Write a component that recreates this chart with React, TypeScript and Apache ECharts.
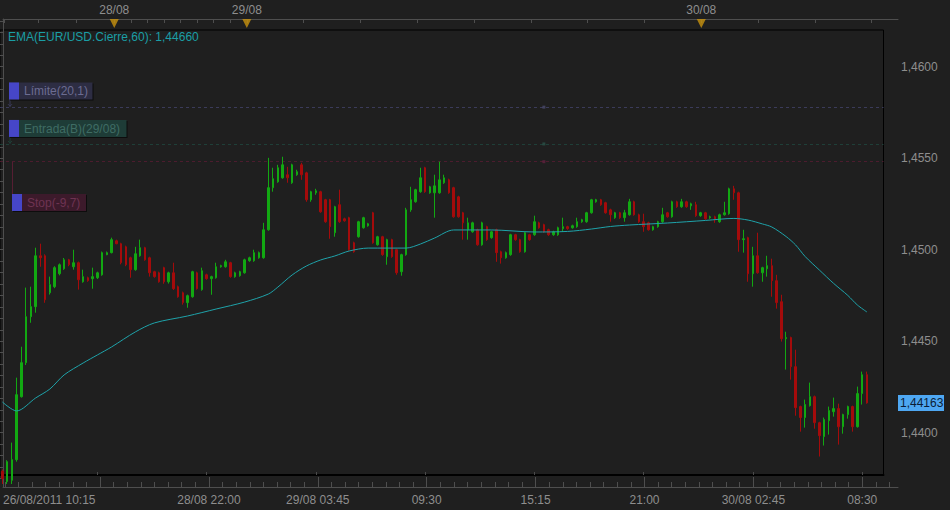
import React, { useEffect, useRef } from "react";
import * as echarts from "echarts";

// ---------- data ----------
const opens = [
  1.4379, 1.43733, 1.4374, 1.43853, 1.44197, 1.44383, 1.44634, 1.44689, 1.44967, 1.44967,
  1.44765, 1.44798, 1.44869, 1.44896, 1.44945, 1.44907, 1.44929, 1.44825, 1.44847, 1.44842,
  1.44847, 1.44863, 1.44973, 1.44984, 1.45049, 1.45033, 1.45016, 1.44956, 1.44891, 1.44967,
  1.45011, 1.44956, 1.4488, 1.44874, 1.44902, 1.44825, 1.44874, 1.44798, 1.44765, 1.44711,
  1.44743, 1.44874, 1.44782, 1.44863, 1.44842, 1.44847, 1.44907, 1.44907, 1.44929, 1.44853,
  1.44858, 1.44874, 1.4494, 1.4494, 1.44956, 1.44956, 1.45109, 1.45339, 1.45371, 1.45393,
  1.4541, 1.45366, 1.4541, 1.45464, 1.4542, 1.45273, 1.45311, 1.45317, 1.45273, 1.45273,
  1.45093, 1.45246, 1.45169, 1.45175, 1.45038, 1.45071, 1.4512, 1.45131, 1.45202, 1.45027,
  1.45071, 1.44962, 1.45055, 1.45, 1.4488, 1.44973, 1.45218, 1.45262, 1.45317, 1.45448,
  1.45311, 1.45311, 1.45311, 1.45366, 1.45382, 1.45339, 1.45289, 1.45202, 1.45109, 1.45098,
  1.45109, 1.45027, 1.45126, 1.45066, 1.45109, 1.44989, 1.44956, 1.44973, 1.45082, 1.45055,
  1.44989, 1.45082, 1.45082, 1.45147, 1.45137, 1.45109, 1.45082, 1.45082, 1.45115, 1.45126,
  1.4512, 1.45126, 1.45153, 1.45153, 1.45202, 1.45262, 1.45273, 1.45257, 1.45218, 1.45175,
  1.45202, 1.45175, 1.45191, 1.45262, 1.45191, 1.45153, 1.45147, 1.45109, 1.45126, 1.45153,
  1.45202, 1.4518, 1.45262, 1.45235, 1.45262, 1.4524, 1.45246, 1.45186, 1.45202, 1.45175,
  1.4518, 1.45153, 1.45191, 1.45197, 1.45333, 1.45311, 1.45055, 1.45066, 1.44869, 1.44967,
  1.44874, 1.44896, 1.44913, 1.44831, 1.44716, 1.44514, 1.4452, 1.44361, 1.44143, 1.44083,
  1.44148, 1.44197, 1.44055, 1.43979, 1.44066, 1.44115, 1.44132, 1.44033, 1.44099, 1.44143,
  1.44033, 1.44214, 1.44317,
];
const closes = [
  1.4375, 1.43842, 1.43853, 1.44208, 1.44383, 1.44634, 1.44689, 1.44967, 1.44956, 1.44727,
  1.44809, 1.44902, 1.44918, 1.44945, 1.44918, 1.44929, 1.44836, 1.44853, 1.44831, 1.44853,
  1.44874, 1.44984, 1.44984, 1.45055, 1.45033, 1.44929, 1.44918, 1.44891, 1.44978, 1.45011,
  1.44945, 1.44874, 1.44853, 1.44825, 1.44825, 1.44874, 1.44787, 1.44743, 1.44711, 1.44749,
  1.4488, 1.44787, 1.44885, 1.44842, 1.44853, 1.44907, 1.44913, 1.44934, 1.44853, 1.44874,
  1.4488, 1.44945, 1.44956, 1.44984, 1.44984, 1.45109, 1.45339, 1.45388, 1.45448, 1.45464,
  1.45393, 1.45464, 1.45426, 1.4541, 1.45273, 1.45317, 1.45322, 1.45207, 1.45153, 1.45126,
  1.45235, 1.45153, 1.45158, 1.45, 1.44989, 1.45153, 1.45175, 1.45142, 1.45038, 1.45071,
  1.44973, 1.45055, 1.44962, 1.44874, 1.44973, 1.45218, 1.45273, 1.45328, 1.45393, 1.45317,
  1.45344, 1.45349, 1.45382, 1.45393, 1.45311, 1.4518, 1.4518, 1.45147, 1.45147, 1.45147,
  1.45027, 1.45147, 1.45055, 1.45098, 1.44984, 1.44956, 1.44984, 1.45082, 1.45055, 1.44989,
  1.45093, 1.45055, 1.45153, 1.4512, 1.45098, 1.45082, 1.45098, 1.4512, 1.45126, 1.45115,
  1.45131, 1.45153, 1.45164, 1.45202, 1.45273, 1.45273, 1.45246, 1.45202, 1.45191, 1.45202,
  1.45175, 1.45202, 1.45262, 1.45191, 1.45153, 1.45126, 1.45109, 1.45126, 1.45153, 1.45191,
  1.4518, 1.45262, 1.45235, 1.45262, 1.45235, 1.45251, 1.45186, 1.45202, 1.45169, 1.4518,
  1.45164, 1.45191, 1.45202, 1.45333, 1.45311, 1.45055, 1.4506, 1.44869, 1.44967, 1.44874,
  1.44902, 1.44913, 1.44831, 1.44711, 1.44514, 1.4452, 1.44361, 1.44137, 1.44083, 1.44154,
  1.44197, 1.44055, 1.43984, 1.44072, 1.44121, 1.44132, 1.44033, 1.44099, 1.44143, 1.44033,
  1.44214, 1.44317, 1.44163,
];
const lows = [
  1.4372, 1.4372, 1.4372, 1.43842, 1.44192, 1.4437, 1.44601, 1.44656, 1.44907, 1.4471,
  1.44755, 1.4479, 1.4486, 1.4489, 1.4491, 1.44891, 1.44782, 1.4482, 1.44825, 1.44787,
  1.4484, 1.44858, 1.4497, 1.4498, 1.4503, 1.4492, 1.4491, 1.44847, 1.44885, 1.44962,
  1.4494, 1.44853, 1.44847, 1.4482, 1.44814, 1.44815, 1.4478, 1.44738, 1.447, 1.44683,
  1.44738, 1.44782, 1.44776, 1.44836, 1.44754, 1.44842, 1.44902, 1.44902, 1.44847, 1.44847,
  1.44853, 1.44869, 1.44934, 1.44934, 1.44951, 1.44951, 1.45104, 1.45317, 1.45366, 1.45388,
  1.45366, 1.4536, 1.45404, 1.45382, 1.45262, 1.45262, 1.453, 1.45202, 1.45147, 1.4506,
  1.45071, 1.45147, 1.45153, 1.44995, 1.44984, 1.45066, 1.45115, 1.45126, 1.45033, 1.45022,
  1.44967, 1.44918, 1.44956, 1.44863, 1.44858, 1.44967, 1.45207, 1.45257, 1.45311, 1.45311,
  1.45306, 1.45175, 1.45306, 1.4536, 1.45306, 1.45175, 1.45175, 1.45055, 1.45055, 1.45093,
  1.45022, 1.45022, 1.45049, 1.4506, 1.44934, 1.44924, 1.44951, 1.44967, 1.45049, 1.44984,
  1.44984, 1.45049, 1.45076, 1.45115, 1.45093, 1.45076, 1.45076, 1.45076, 1.45098, 1.45109,
  1.45115, 1.4512, 1.45147, 1.45147, 1.45197, 1.45257, 1.4524, 1.45197, 1.45153, 1.45169,
  1.45169, 1.45153, 1.45186, 1.45186, 1.45147, 1.45098, 1.45104, 1.45104, 1.4512, 1.45147,
  1.45175, 1.45175, 1.45229, 1.45229, 1.45229, 1.45218, 1.4518, 1.4518, 1.45164, 1.45169,
  1.45147, 1.45147, 1.45186, 1.45191, 1.45273, 1.44989, 1.44984, 1.44825, 1.44798, 1.44869,
  1.44825, 1.44853, 1.44743, 1.44678, 1.44498, 1.44345, 1.4429, 1.44093, 1.44006, 1.44028,
  1.44143, 1.44022, 1.4387, 1.4393, 1.4399, 1.44088, 1.43935, 1.43995, 1.44077, 1.44006,
  1.44028, 1.44154, 1.44159,
];
const highs = [
  1.438, 1.4385, 1.43946, 1.44301, 1.4447, 1.44793, 1.44798, 1.45011, 1.45033, 1.44975,
  1.44853, 1.4491, 1.44925, 1.44955, 1.4495, 1.45, 1.44935, 1.44891, 1.44853, 1.44902,
  1.4488, 1.4499, 1.4499, 1.45066, 1.45055, 1.45038, 1.45022, 1.44962, 1.45016, 1.45055,
  1.45016, 1.44962, 1.44885, 1.4488, 1.44907, 1.4488, 1.44929, 1.44804, 1.44771, 1.44755,
  1.44885, 1.4488, 1.44902, 1.44869, 1.44858, 1.44929, 1.44918, 1.44945, 1.44934, 1.4488,
  1.44885, 1.44951, 1.44962, 1.45, 1.4499, 1.45147, 1.45502, 1.45448, 1.45464, 1.45508,
  1.45453, 1.4547, 1.45437, 1.45475, 1.45426, 1.45322, 1.45333, 1.45322, 1.45278, 1.45278,
  1.4524, 1.45328, 1.45175, 1.4518, 1.45044, 1.45158, 1.4518, 1.45147, 1.45207, 1.45076,
  1.45076, 1.4506, 1.4506, 1.45005, 1.44978, 1.45229, 1.45344, 1.45333, 1.45448, 1.45453,
  1.45349, 1.4541, 1.45481, 1.4541, 1.45388, 1.45344, 1.45295, 1.45207, 1.45175, 1.45153,
  1.45115, 1.45153, 1.45131, 1.45104, 1.45115, 1.44995, 1.4499, 1.45087, 1.45087, 1.4506,
  1.45098, 1.45087, 1.45186, 1.45153, 1.45142, 1.45115, 1.45104, 1.45126, 1.45175, 1.45131,
  1.45137, 1.45175, 1.45169, 1.45207, 1.45278, 1.45278, 1.45278, 1.45262, 1.45224, 1.45207,
  1.45207, 1.45218, 1.45278, 1.45268, 1.45197, 1.45197, 1.45153, 1.45131, 1.45158, 1.45229,
  1.45207, 1.45268, 1.45268, 1.45278, 1.45268, 1.45257, 1.45262, 1.45207, 1.45207, 1.45186,
  1.45186, 1.45197, 1.45262, 1.45339, 1.45349, 1.45317, 1.45109, 1.45071, 1.45016, 1.45093,
  1.44907, 1.44967, 1.44951, 1.44863, 1.44754, 1.44552, 1.44525, 1.44454, 1.44148, 1.44181,
  1.44274, 1.44203, 1.4406, 1.44083, 1.44143, 1.44192, 1.44159, 1.44104, 1.44148, 1.44148,
  1.44252, 1.44334, 1.44334,
];

// EMA(60) read at selected bars
const emaIndex = [
  0, 3, 7, 10, 13, 17, 20, 23, 28, 32, 39, 45, 51, 56, 58, 61, 64, 67, 70, 73, 77, 85, 88, 91,
  95, 103, 112, 119, 124, 128, 132, 140, 148, 154, 157, 160, 162, 165, 167, 169, 172, 175, 178,
  180, 182,
];
const emaValues = [
  1.44168, 1.44119, 1.4419, 1.44239, 1.44316, 1.44381, 1.44425, 1.44469, 1.44551, 1.446,
  1.44638, 1.44676, 1.44714, 1.44758, 1.44796, 1.44862, 1.44911, 1.44944, 1.44966, 1.44993,
  1.45009, 1.45009, 1.45031, 1.45064, 1.45108, 1.45108, 1.45097, 1.451, 1.45113, 1.45127,
  1.45135, 1.45146, 1.4516, 1.45171, 1.45162, 1.45141, 1.45124, 1.45072, 1.45026, 1.44963,
  1.44889, 1.44816, 1.4475, 1.44698, 1.4466,
];
const emaName = "EMA(EUR/USD.Cierre,60)";

// order levels
const levelNames = ["Límite(20,1)", "Entrada(B)(29/08)", "Stop(-9,7)"];
const levelValues = [1.45779, 1.45578, 1.45481];
const levelMarkerIndex = 114;

// axes
const yTickValues = [1.44, 1.445, 1.45, 1.455, 1.46];
const bottomLabelIndex = [0, 43, 66, 89, 112, 135, 158, 181];
const bottomLabels = [
  "26/08/2011 10:15", "28/08 22:00", "29/08 03:45", "09:30", "15:15", "21:00", "30/08 02:45", "08:30",
];
const bottomTickIndex = [20, 43, 66, 89, 112, 135, 158, 181];
const dayIndex = [23, 51, 147];
const dayLabels = ["28/08", "29/08", "30/08"];
const topTickSlots = [
  0.2, 7.5, 15.5, 23.5, 27, 30.5, 34, 37.5, 41, 44.5, 48, 51.5, 63.5, 75.5, 87.5, 99.5, 111.5,
  123.5, 135.5, 147.5, 159.5, 171.5, 183.5,
];

// ---------- layout constants ----------
const SLOT_COUNT = 186;
const SLOT_PX = 4.75;
const FRAME_W = 898;
const Y0_MIN = 1.437691;
const Y0_MAX = 1.462006;
const Y1_MIN = 1.437035;
const Y1_MAX = 1.462607;

function pad2(n: number) {
  return n < 10 ? "0" + n : "" + n;
}
function buildCategories(): string[] {
  const out: string[] = [];
  for (let k = 0; k < 23; k++) {
    const t = 10 * 60 + 15 + 15 * k;
    out.push(`26/08 ${pad2(Math.floor(t / 60))}:${pad2(t % 60)}`);
  }
  for (let k = 0; out.length < SLOT_COUNT; k++) {
    const t = 17 * 60 + 15 * k;
    const d = 28 + Math.floor(t / 1440);
    const tm = t % 1440;
    out.push(`${d}/08 ${pad2(Math.floor(tm / 60))}:${pad2(tm % 60)}`);
  }
  return out;
}

const BG = "#1f1f1f";
const FONT = '"Liberation Sans", Arial, sans-serif';
const AXIS_GREY = "#4e4e4e";
const LABEL_GREY = "#8e8e8e";
const levelLine = ["#3b3b5a", "#1f3f38", "#4c1c2e"];
const levelMark = ["#4a4a6c", "#2a5249", "#62203f"];
const levelBox = ["#2d2d43", "#1e3c37", "#3c1a2b"];
const levelText = ["#6c6c92", "#3f6c64", "#6e3352"];

export default function App() {
  const ref = useRef<HTMLDivElement>(null);

  useEffect(() => {
    if (!ref.current) return;
    const chart = echarts.init(ref.current, null, { renderer: "svg" });
    const categories = buildCategories();
    const frameMax = FRAME_W / SLOT_PX;

    const majorX = bottomTickIndex.map((i) => i + 0.5);
    const minorStep = 23 / 8;
    const minorX: number[] = [];
    for (let v = majorX[0] - 7 * minorStep; v <= frameMax; v += minorStep) minorX.push(v);
    const labelX = bottomLabelIndex.map((i, k) => (k === 0 ? 0 : i + 0.5));
    const dayX = dayIndex.map((i) => i + 0.5);
    const yMinor: number[] = [];
    for (let k = 0; k <= 40; k++) yMinor.push(1.4375 + k * 0.000625);

    const findLabel = (vals: number[], texts: string[], v: number) => {
      const k = vals.findIndex((x) => Math.abs(x - v) < 1e-6);
      return k >= 0 ? texts[k] : "";
    };

    const labelStyle = { color: LABEL_GREY, fontFamily: FONT, fontSize: 12 };

    const option: any = {
      animation: false,
      backgroundColor: BG,
      grid: [
        {
          left: 0, top: 30, width: SLOT_COUNT * SLOT_PX, height: 445,
          show: true, borderColor: "#000", borderWidth: 1, backgroundColor: "transparent",
        },
        { left: 0, top: 19, width: FRAME_W, height: 468, show: false },
      ],
      xAxis: [
        {
          type: "category", gridIndex: 0, data: categories, boundaryGap: true,
          axisLine: { show: true, lineStyle: { color: "#000", width: 2 } },
          axisTick: {
            show: true, inside: true, length: 3, alignWithLabel: true,
            interval: (i: number) => i >= 20 && (i - 20) % 23 === 0,
            lineStyle: { color: "#4a4a4a" },
          },
          axisLabel: { show: false }, splitLine: { show: false },
        },
        {
          type: "value", gridIndex: 1, position: "bottom", min: 0, max: frameMax,
          axisLine: { show: true, lineStyle: { color: AXIS_GREY } },
          axisTick: { show: true, inside: true, length: 10, customValues: majorX, lineStyle: { color: AXIS_GREY } },
          axisLabel: {
            show: true, customValues: labelX, margin: 7, alignMinLabel: "left",
            formatter: (v: number) => findLabel(labelX, bottomLabels, v), ...labelStyle,
          },
          splitLine: { show: false },
        },
        {
          type: "value", gridIndex: 1, position: "bottom", min: 0, max: frameMax,
          axisLine: { show: false },
          axisTick: { show: true, inside: true, length: 5, customValues: minorX, lineStyle: { color: AXIS_GREY } },
          axisLabel: { show: false }, splitLine: { show: false },
        },
        {
          type: "value", gridIndex: 1, position: "top", min: 0, max: frameMax,
          axisLine: { show: true, lineStyle: { color: AXIS_GREY } },
          axisTick: { show: true, inside: true, length: 4, customValues: topTickSlots, lineStyle: { color: AXIS_GREY } },
          axisLabel: {
            show: true, customValues: dayX, margin: 3,
            formatter: (v: number) => findLabel(dayX, dayLabels, v), ...labelStyle,
          },
          splitLine: { show: false },
        },
      ],
      yAxis: [
        { type: "value", gridIndex: 0, min: Y0_MIN, max: Y0_MAX, show: false, splitLine: { show: false } },
        {
          type: "value", gridIndex: 1, position: "right", min: Y1_MIN, max: Y1_MAX,
          axisLine: { show: true, lineStyle: { color: AXIS_GREY } },
          axisTick: { show: true, inside: true, length: 13, customValues: yTickValues, lineStyle: { color: AXIS_GREY } },
          axisLabel: {
            show: true, customValues: yTickValues, margin: 3,
            formatter: (v: number) => v.toFixed(4).replace(".", ","), ...labelStyle,
          },
          splitLine: { show: false },
        },
        {
          type: "value", gridIndex: 1, position: "right", min: Y1_MIN, max: Y1_MAX,
          axisLine: { show: false },
          axisTick: { show: true, inside: true, length: 6, customValues: yMinor, lineStyle: { color: AXIS_GREY } },
          axisLabel: { show: false }, splitLine: { show: false },
        },
      ],
      series: [
        {
          type: "candlestick", name: "EUR/USD", xAxisIndex: 0, yAxisIndex: 0,
          data: opens.map((o, i) => [o, closes[i], lows[i], highs[i]]),
          barWidth: 2, clip: true, z: 3,
          itemStyle: {
            color: "#12a812", color0: "#a40b0b",
            borderColor: "#12a812", borderColor0: "#a40b0b", borderWidth: 1,
          },
        },
        {
          type: "line", name: emaName, xAxisIndex: 0, yAxisIndex: 0,
          data: emaIndex.map((i, k) => [i, emaValues[k]]),
          showSymbol: false, symbol: "none", smooth: 0.3, z: 4,
          lineStyle: { color: "#1fa3aa", width: 1 },
          markLine: {
            silent: true, symbol: ["none", "none"], label: { show: false }, z: 2, precision: 5,
            data: levelValues.map((v, k) => ({
              yAxis: v, lineStyle: { color: levelLine[k], type: [3, 3], width: 1 },
            })),
          },
        },
        {
          type: "scatter", xAxisIndex: 0, yAxisIndex: 0, symbol: "rect", symbolSize: 3, z: 3,
          data: levelValues.map((v, k) => ({ value: [levelMarkerIndex, v], itemStyle: { color: levelMark[k] } })),
        },
        {
          type: "scatter", xAxisIndex: 3, yAxisIndex: 1, symbol: "triangle", symbolRotate: 180,
          symbolSize: [9, 9], symbolOffset: [0, 4.5], clip: false, z: 5,
          itemStyle: { color: "#c8920e" },
          data: dayX.map((x) => [x, Y1_MAX]),
        },
      ],
    };
    chart.setOption(option);

    const py = (v: number) => chart.convertToPixel({ yAxisIndex: 0 } as any, v) as number;
    const yL = py(levelValues[0]);
    const yE = py(levelValues[1]);
    const yS = py(levelValues[2]);
    const yLast = py(closes[closes.length - 1]);

    const textStyle = (text: string, fill: string) => ({
      text, fill, font: `12px ${FONT}`,
      align: "left", verticalAlign: "middle", textAlign: "left", textVerticalAlign: "middle",
    });
    const box = (x: number, top: number, w: number, k: number) => [
      { type: "rect", z: 100, shape: { x: x + 1, y: top + 1, width: w, height: 17 }, style: { fill: "#0d0d0d" } },
      { type: "rect", z: 101, shape: { x, y: top, width: w, height: 17 }, style: { fill: levelBox[k] } },
      { type: "rect", z: 102, shape: { x, y: top, width: 10, height: 17 }, style: { fill: "#4646c8" } },
      { type: "text", z: 103, x: x + 15, y: top + 9, style: textStyle(levelNames[k], levelText[k]) },
    ];

    const elements: any[] = [
      { type: "text", z: 100, x: 8, y: 37, style: textStyle(`${emaName}: ${emaValues[emaValues.length - 1].toFixed(5).replace(".", ",")}`, "#1a9ea5") },
      { type: "line", z: 99, shape: { x1: 10, y1: yL - 8, x2: 10, y2: yL }, style: { stroke: levelLine[0], lineWidth: 1 } },
      { type: "polyline", z: 99, shape: { points: [[8, yL - 3], [10, yL - 1], [12, yL - 3]] }, style: { stroke: levelLine[0], lineWidth: 1, fill: "none" } },
      { type: "line", z: 99, shape: { x1: 10, y1: yE - 8, x2: 10, y2: yE }, style: { stroke: levelLine[1], lineWidth: 1 } },
      { type: "polyline", z: 99, shape: { points: [[8, yE - 3], [10, yE - 1], [12, yE - 3]] }, style: { stroke: levelLine[1], lineWidth: 1, fill: "none" } },
      { type: "line", z: 99, shape: { x1: 12.5, y1: yS, x2: 12.5, y2: yS + 33 }, style: { stroke: "#561e33", lineWidth: 1 } },
      ...box(9, yL - 24.7, 83.5, 0),
      ...box(9, yE - 24, 117.5, 1),
      ...box(12, yS + 32.3, 74, 2),
      { type: "rect", z: 100, shape: { x: FRAME_W, y: yLast - 8, width: 46, height: 16 }, style: { fill: "#4ea7f2" } },
      { type: "text", z: 101, x: FRAME_W + 2, y: yLast, style: textStyle(closes[closes.length - 1].toFixed(5).replace(".", ","), "#0b1d36") },
    ];
    chart.setOption({ graphic: { elements } });

    return () => chart.dispose();
  }, []);

  return (
    <div
      ref={ref}
      style={{ position: "fixed", left: 0, top: 0, width: 950, height: 510, background: BG }}
    />
  );
}
